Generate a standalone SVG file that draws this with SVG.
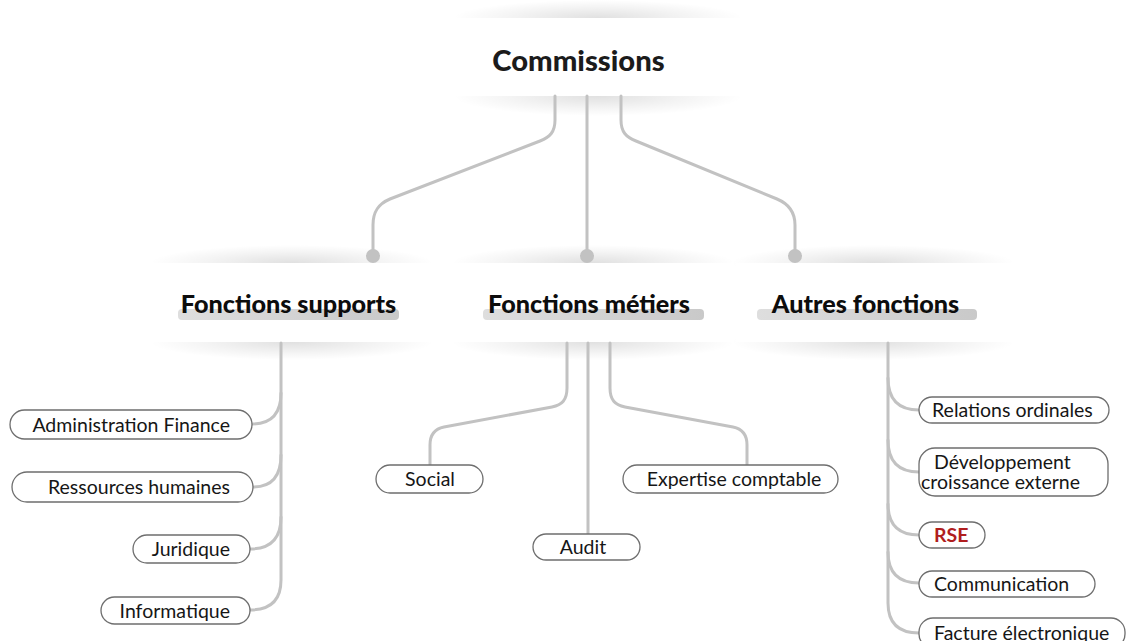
<svg xmlns="http://www.w3.org/2000/svg" width="1126" height="641" viewBox="0 0 1126 641">
<defs>
<radialGradient id="sh" cx="0.5" cy="0.5" r="0.5">
<stop offset="0" stop-color="#000" stop-opacity="0.12"/>
<stop offset="0.6" stop-color="#000" stop-opacity="0.045"/>
<stop offset="1" stop-color="#000" stop-opacity="0"/>
</radialGradient>
<linearGradient id="hl" x1="0" y1="0" x2="1" y2="0">
<stop offset="0" stop-color="#dedede"/>
<stop offset="1" stop-color="#c9c9c9"/>
</linearGradient>
</defs>
<style>
.conn{fill:none;stroke:#c2c2c2;stroke-width:3;stroke-linecap:round;stroke-linejoin:round}
.dot{fill:#c2c2c2}
.leaf{fill:#fff;stroke:#6e6e6e;stroke-width:1.3}
.lt{font-family:Lato,"Liberation Sans",sans-serif;font-size:19.5px;fill:#161616}
.ht{font-family:Lato,"Liberation Sans",sans-serif;font-size:25.2px;font-weight:900;fill:#0d0d0d;text-anchor:middle}
.bar{fill:url(#hl)}
.sh{fill:url(#sh)}
</style>
<rect x="0" y="0" width="1126" height="641" fill="#fff"/>

<g id="commissions">
<ellipse class="sh" cx="598" cy="18" rx="145" ry="18"/>
<ellipse class="sh" cx="598" cy="96" rx="145" ry="20"/>
<rect x="455" y="18" width="285" height="78" fill="#fff"/>
<text x="578.5" y="71" style="font-family:Lato,'Liberation Sans',sans-serif;font-size:29.2px;font-weight:900;fill:#1b1b1b" text-anchor="middle">Commissions</text>
</g>

<g id="fonctions-supports">
<ellipse class="sh" cx="292" cy="263" rx="142" ry="18"/>
<ellipse class="sh" cx="292" cy="342" rx="142" ry="18"/>
<rect x="152" y="263" width="280" height="79" fill="#fff"/>
<rect class="bar" x="178" y="309" width="221" height="11" rx="4"/>
<text class="ht" x="288.5" y="313">Fonctions supports</text>
</g>

<g id="fonctions-metiers">
<ellipse class="sh" cx="593" cy="263" rx="142" ry="18"/>
<ellipse class="sh" cx="593" cy="342" rx="142" ry="18"/>
<rect x="454" y="263" width="278" height="79" fill="#fff"/>
<rect class="bar" x="483" y="309" width="221" height="11" rx="4"/>
<text class="ht" x="589" y="313">Fonctions métiers</text>
</g>

<g id="autres-fonctions">
<ellipse class="sh" cx="873" cy="263" rx="142" ry="18"/>
<ellipse class="sh" cx="873" cy="342" rx="142" ry="18"/>
<rect x="736" y="263" width="276" height="79" fill="#fff"/>
<rect class="bar" x="757" y="309" width="220" height="11" rx="4"/>
<text class="ht" x="865.5" y="313">Autres fonctions</text>
</g>

<g id="connectors">
<path class="conn" d="M555,96 V120 C555,132 550,137 540,141 L390,199 C378,204 373,212 373,225 V256"/>
<path class="conn" d="M587,96 V256"/>
<path class="conn" d="M621,96 V120 C621,132 626,137 636,141 L777,199 C789,204 795,212 795,225 V256"/>
<circle class="dot" cx="373" cy="256" r="7"/>
<circle class="dot" cx="587" cy="256" r="7"/>
<circle class="dot" cx="795" cy="256" r="7"/>

<path class="conn" d="M281,343 V580 Q281,610 250,610"/>
<path class="conn" d="M281,393 Q281,424 252,424"/>
<path class="conn" d="M281,455 Q281,487 253,487"/>
<path class="conn" d="M281,517 Q281,549 250,549"/>

<path class="conn" d="M567,343 V388 C567,400 562,405 552,407 L444,427 C434,429 430,435 430,445 V465"/>
<path class="conn" d="M588,343 V534"/>
<path class="conn" d="M610,343 V388 C610,400 615,405 625,407 L733,427 C743,429 747,435 747,445 V465"/>

<path class="conn" d="M888,343 V603 Q888,633 919,633"/>
<path class="conn" d="M888,378 Q888,410 919,410"/>
<path class="conn" d="M888,440 Q888,472 919,472"/>
<path class="conn" d="M888,504 Q888,535 919,535"/>
<path class="conn" d="M888,552 Q888,583 919,583"/>
</g>

<g id="administration-finance"><rect class="leaf" x="10" y="410" width="242" height="29" rx="14.5"/><text class="lt" x="230" y="431.5" text-anchor="end">Administration Finance</text></g>
<g id="ressources-humaines"><rect class="leaf" x="12" y="472" width="241" height="30" rx="15"/><text class="lt" x="230" y="494" text-anchor="end">Ressources humaines</text></g>
<g id="juridique"><rect class="leaf" x="133" y="535" width="117" height="28" rx="14"/><text class="lt" x="230" y="555.5" text-anchor="end">Juridique</text></g>
<g id="informatique"><rect class="leaf" x="101" y="597" width="149" height="27" rx="13.5"/><text class="lt" x="230" y="617.5" text-anchor="end">Informatique</text></g>

<g id="social"><rect class="leaf" x="376" y="465" width="107" height="28" rx="14"/><text class="lt" x="430" y="486" text-anchor="middle">Social</text></g>
<g id="audit"><rect class="leaf" x="533" y="534" width="107" height="26" rx="13"/><text class="lt" x="583" y="554" text-anchor="middle">Audit</text></g>
<g id="expertise-comptable"><rect class="leaf" x="623" y="465" width="215" height="28" rx="14"/><text class="lt" x="734" y="486" text-anchor="middle">Expertise comptable</text></g>

<g id="relations-ordinales"><rect class="leaf" x="919" y="397" width="190" height="26" rx="13"/><text class="lt" x="932" y="417">Relations ordinales</text></g>
<g id="developpement"><rect class="leaf" x="919" y="448" width="189" height="48" rx="16"/><text class="lt" x="934" y="468.5">Développement</text><text class="lt" x="921" y="488.5">croissance externe</text></g>
<g id="rse"><rect class="leaf" x="919" y="522" width="66" height="26" rx="13"/><text class="lt" x="934" y="541.5" style="font-weight:bold;fill:#b01e1e">RSE</text></g>
<g id="communication"><rect class="leaf" x="919" y="571" width="176" height="26" rx="13"/><text class="lt" x="934" y="590.5">Communication</text></g>
<g id="facture-electronique"><rect class="leaf" x="919" y="618" width="206" height="30" rx="14"/><text class="lt" x="934" y="640">Facture électronique</text></g>
</svg>
